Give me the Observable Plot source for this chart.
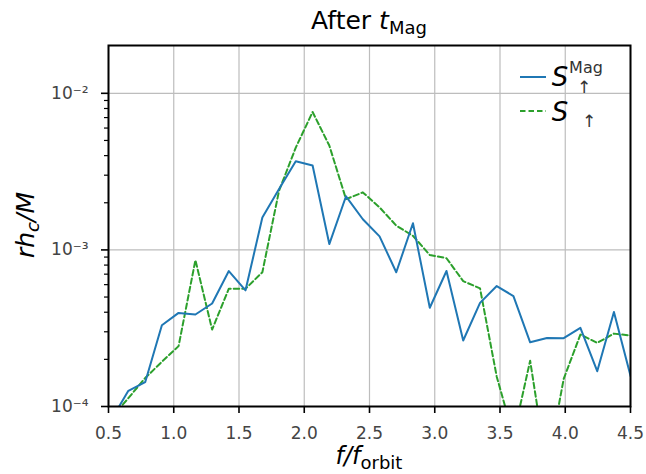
<!DOCTYPE html>
<html>
<head>
<meta charset="utf-8">
<script src="https://cdn.jsdelivr.net/npm/d3@7"></script>
<script src="https://cdn.jsdelivr.net/npm/@observablehq/plot@0.6"></script>
<style>
  body { margin: 0; background: #fff; }
  #chart svg { font-family: "DejaVu Sans", sans-serif; }
  g[aria-label$="tick label"] { fill: #444; font-size: 17px; }
</style>
</head>
<body>
<div id="chart"></div>
<script>
// f / f_orbit sample frequencies
const freq = [0.524, 0.652, 0.781, 0.909, 1.037, 1.166, 1.294, 1.422, 1.550, 1.679,
  1.807, 1.935, 2.064, 2.192, 2.320, 2.449, 2.577, 2.705, 2.833, 2.962,
  3.090, 3.218, 3.347, 3.475, 3.603, 3.731, 3.860, 3.988, 4.116, 4.245,
  4.373, 4.501];
// S_up^Mag (solid blue)
const sMag = [8.3e-5, 1.26e-4, 1.43e-4, 3.3e-4, 3.96e-4, 3.87e-4, 4.55e-4, 7.33e-4, 5.52e-4, 1.61e-3,
  2.45e-3, 3.68e-3, 3.46e-3, 1.09e-3, 2.2e-3, 1.57e-3, 1.22e-3, 7.2e-4, 1.48e-3, 4.27e-4,
  7.33e-4, 2.64e-4, 4.59e-4, 5.88e-4, 5.07e-4, 2.57e-4, 2.74e-4, 2.73e-4, 3.18e-4, 1.68e-4,
  4.01e-4, 1.56e-4];
// S_up (dashed green)
const sUp = [8.5e-5, 1.13e-4, 1.52e-4, 1.93e-4, 2.43e-4, 8.6e-4, 3.1e-4, 5.65e-4, 5.65e-4, 7.2e-4,
  2.39e-3, 4.5e-3, 7.6e-3, 4.64e-3, 2.11e-3, 2.33e-3, 1.87e-3, 1.43e-3, 1.23e-3, 9.28e-4,
  8.85e-4, 6.32e-4, 5.68e-4, 1.55e-4, 6.5e-5, 1.96e-4, 4e-5, 1.5e-4, 2.88e-4, 2.55e-4,
  2.92e-4, 2.84e-4];

const xTicks = [0.5, 1.0, 1.5, 2.0, 2.5, 3.0, 3.5, 4.0, 4.5];
const yMajor = [1e-4, 1e-3, 1e-2];
const yMinor = [2e-4, 3e-4, 4e-4, 5e-4, 6e-4, 7e-4, 8e-4, 9e-4,
  2e-3, 3e-3, 4e-3, 5e-3, 6e-3, 7e-3, 8e-3, 9e-3];
const yMajorLabels = ["10\u207B\u2074", "10\u207B\u00B3", "10\u207B\u00B2"];

const magData = freq.map((f, i) => ({f, v: sMag[i]}));
const upData = freq.map((f, i) => ({f, v: sUp[i]}));

const chart = Plot.plot({
  width: 646,
  height: 474,
  marginLeft: 108,
  marginRight: 16,
  marginTop: 45,
  marginBottom: 68,
  x: {domain: [0.5, 4.5]},
  y: {type: "log", domain: [1e-4, 0.0202]},
  marks: [
    Plot.gridX(xTicks, {stroke: "#bdbdbd", strokeOpacity: 1, strokeWidth: 1.2}),
    Plot.gridY(yMajor, {stroke: "#bdbdbd", strokeOpacity: 1, strokeWidth: 1.2}),
    Plot.line(upData, {x: "f", y: "v", stroke: "#2ca02c", strokeWidth: 2, strokeDasharray: "5.5,3", clip: true}),
    Plot.line(magData, {x: "f", y: "v", stroke: "#1f77b4", strokeWidth: 2, clip: true}),
    Plot.frame({stroke: "#000", strokeWidth: 2}),
    Plot.axisX(xTicks, {tickSize: 7, strokeWidth: 1.6, tickPadding: 13,
      tickFormat: d => d.toFixed(1), label: null}),
    Plot.axisY(yMajor, {tickSize: 7, strokeWidth: 1.6, tickPadding: 13,
      tickFormat: d => yMajorLabels[yMajor.indexOf(d)], label: null}),
    Plot.axisY(yMinor, {tickSize: 4, strokeWidth: 1.2, tickFormat: () => "", label: null})
  ]
});
document.getElementById("chart").appendChild(chart);

// annotations: title, axis labels, legend
const svg = d3.select(chart);
const ff = "DejaVu Sans, sans-serif";
const title = svg.append("text").attr("x", 369).attr("y", 29).attr("text-anchor", "middle")
  .attr("font-size", 25).attr("font-family", ff).attr("fill", "#000");
title.append("tspan").text("After ");
title.append("tspan").attr("font-style", "italic").text("t");
title.append("tspan").attr("font-size", 18).attr("dy", 5).text("Mag");

const xl = svg.append("text").attr("x", 369).attr("y", 464).attr("text-anchor", "middle")
  .attr("font-size", 24).attr("font-family", ff).attr("fill", "#000");
xl.append("tspan").attr("font-style", "italic").text("f/f");
xl.append("tspan").attr("font-size", 18).attr("dy", 5).text("orbit");

const yl = svg.append("text").attr("transform", "translate(34,225) rotate(-90)")
  .attr("text-anchor", "middle").attr("font-size", 25).attr("font-family", ff)
  .attr("font-style", "italic").attr("fill", "#000");
yl.append("tspan").text("rh");
yl.append("tspan").attr("font-size", 18).attr("dy", 5).text("c");
yl.append("tspan").attr("dy", -5).text("/M");

const lg = svg.append("g").attr("font-family", ff);
lg.append("line").attr("x1", 520).attr("x2", 546).attr("y1", 77).attr("y2", 77)
  .attr("stroke", "#1f77b4").attr("stroke-width", 2);
lg.append("line").attr("x1", 520).attr("x2", 546).attr("y1", 111).attr("y2", 111)
  .attr("stroke", "#2ca02c").attr("stroke-width", 2).attr("stroke-dasharray", "5.5,3");
lg.append("text").attr("x", 560).attr("y", 86).attr("font-size", 26).attr("font-style", "italic").text("S");
lg.append("text").attr("x", 586).attr("y", 73).attr("font-size", 16).attr("fill", "#333").text("Mag");
lg.append("text").attr("x", 584).attr("y", 93).attr("font-size", 17).attr("fill", "#333").text("\u2191");
lg.append("text").attr("x", 560).attr("y", 121).attr("font-size", 26).attr("font-style", "italic").text("S");
lg.append("text").attr("x", 589).attr("y", 127).attr("font-size", 17).attr("fill", "#333").text("\u2191");
</script>
</body>
</html>
